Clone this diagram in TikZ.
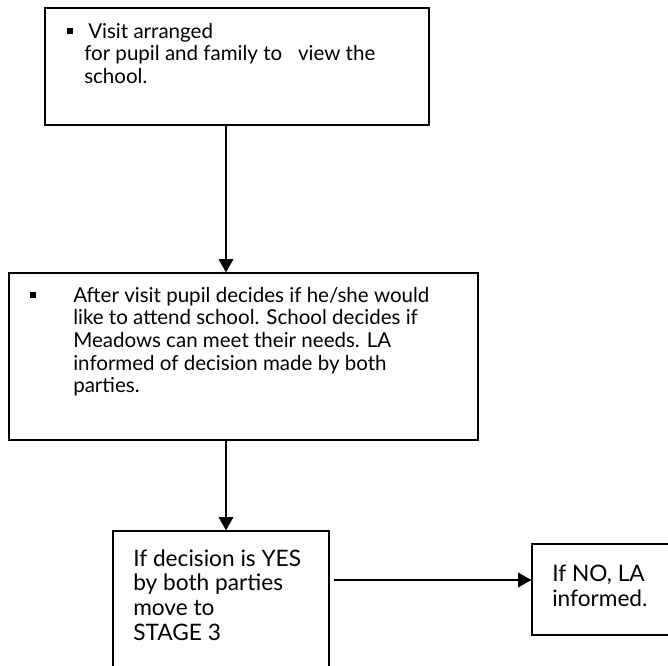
\documentclass[tikz,border=0pt]{standalone}
\usepackage{fontspec}
\setmainfont{Lato}
\usetikzlibrary{arrows.meta}

\begin{document}
\begin{tikzpicture}
	[x=0.75pt,y=-0.75pt,
	 box/.style={draw,line width=0.9pt,inner sep=0pt},
	 txt/.style={anchor=base west,align=left,inner sep=0pt,font=\fontsize{15.4}{17}\selectfont},
	 bigtxt/.style={txt,font=\fontsize{17}{18.5}\selectfont},
	 bul/.style={fill,minimum size=4.5pt,inner sep=0pt},
	 arr/.style={line width=0.9pt,-{Triangle[length=10pt,width=11pt]}}]
	\useasboundingbox (0,0) rectangle (668,666);
	\node[box,minimum width=288pt,minimum height=87.75pt] (b1) at (237,66.5) {};
	\node[box,minimum width=351.75pt,minimum height=125.25pt] (b2) at (243.5,356.5) {};
	\node[box,minimum width=162pt,minimum height=102pt] (b3) at (221,599) {};
	\node[box,minimum width=105pt,minimum height=68.25pt] (b4) at (602,589.5) {};
	
	% text nodes sit on the baseline of their last line
	\node[bul] (d1) at (70,31.5) {};
	\node[txt] (t1) at (84,83.5) {\hspace*{3pt}Visit arranged\\for pupil and family to \ \ view the\\school.};
	\node[bul] (d2) at (33,295) {};
	\node[txt] (t2) at (73,393) {After visit pupil decides if he/she would\\like to attend school. School decides if\\Meadows can meet their needs. LA\\informed of decision made by both\\parties.};
	\node[bigtxt] (t3) at (133,640) {If decision is YES\\by both parties\\move to\\STAGE 3};
	\node[bigtxt] (t4) at (552,606) {If NO, LA\\informed.};
	
	\draw[arr] ([xshift=-8.25pt]b1.south) -- ([xshift=-13.125pt]b2.north);
	\draw[arr] ([xshift=-13.125pt]b2.south) -- ([xshift=3.75pt]b3.north);
	\draw[arr] ([shift={(4,-19)}]b3.east) -- ([shift={(0,-9.5)}]b4.west);
\end{tikzpicture}
\end{document}
